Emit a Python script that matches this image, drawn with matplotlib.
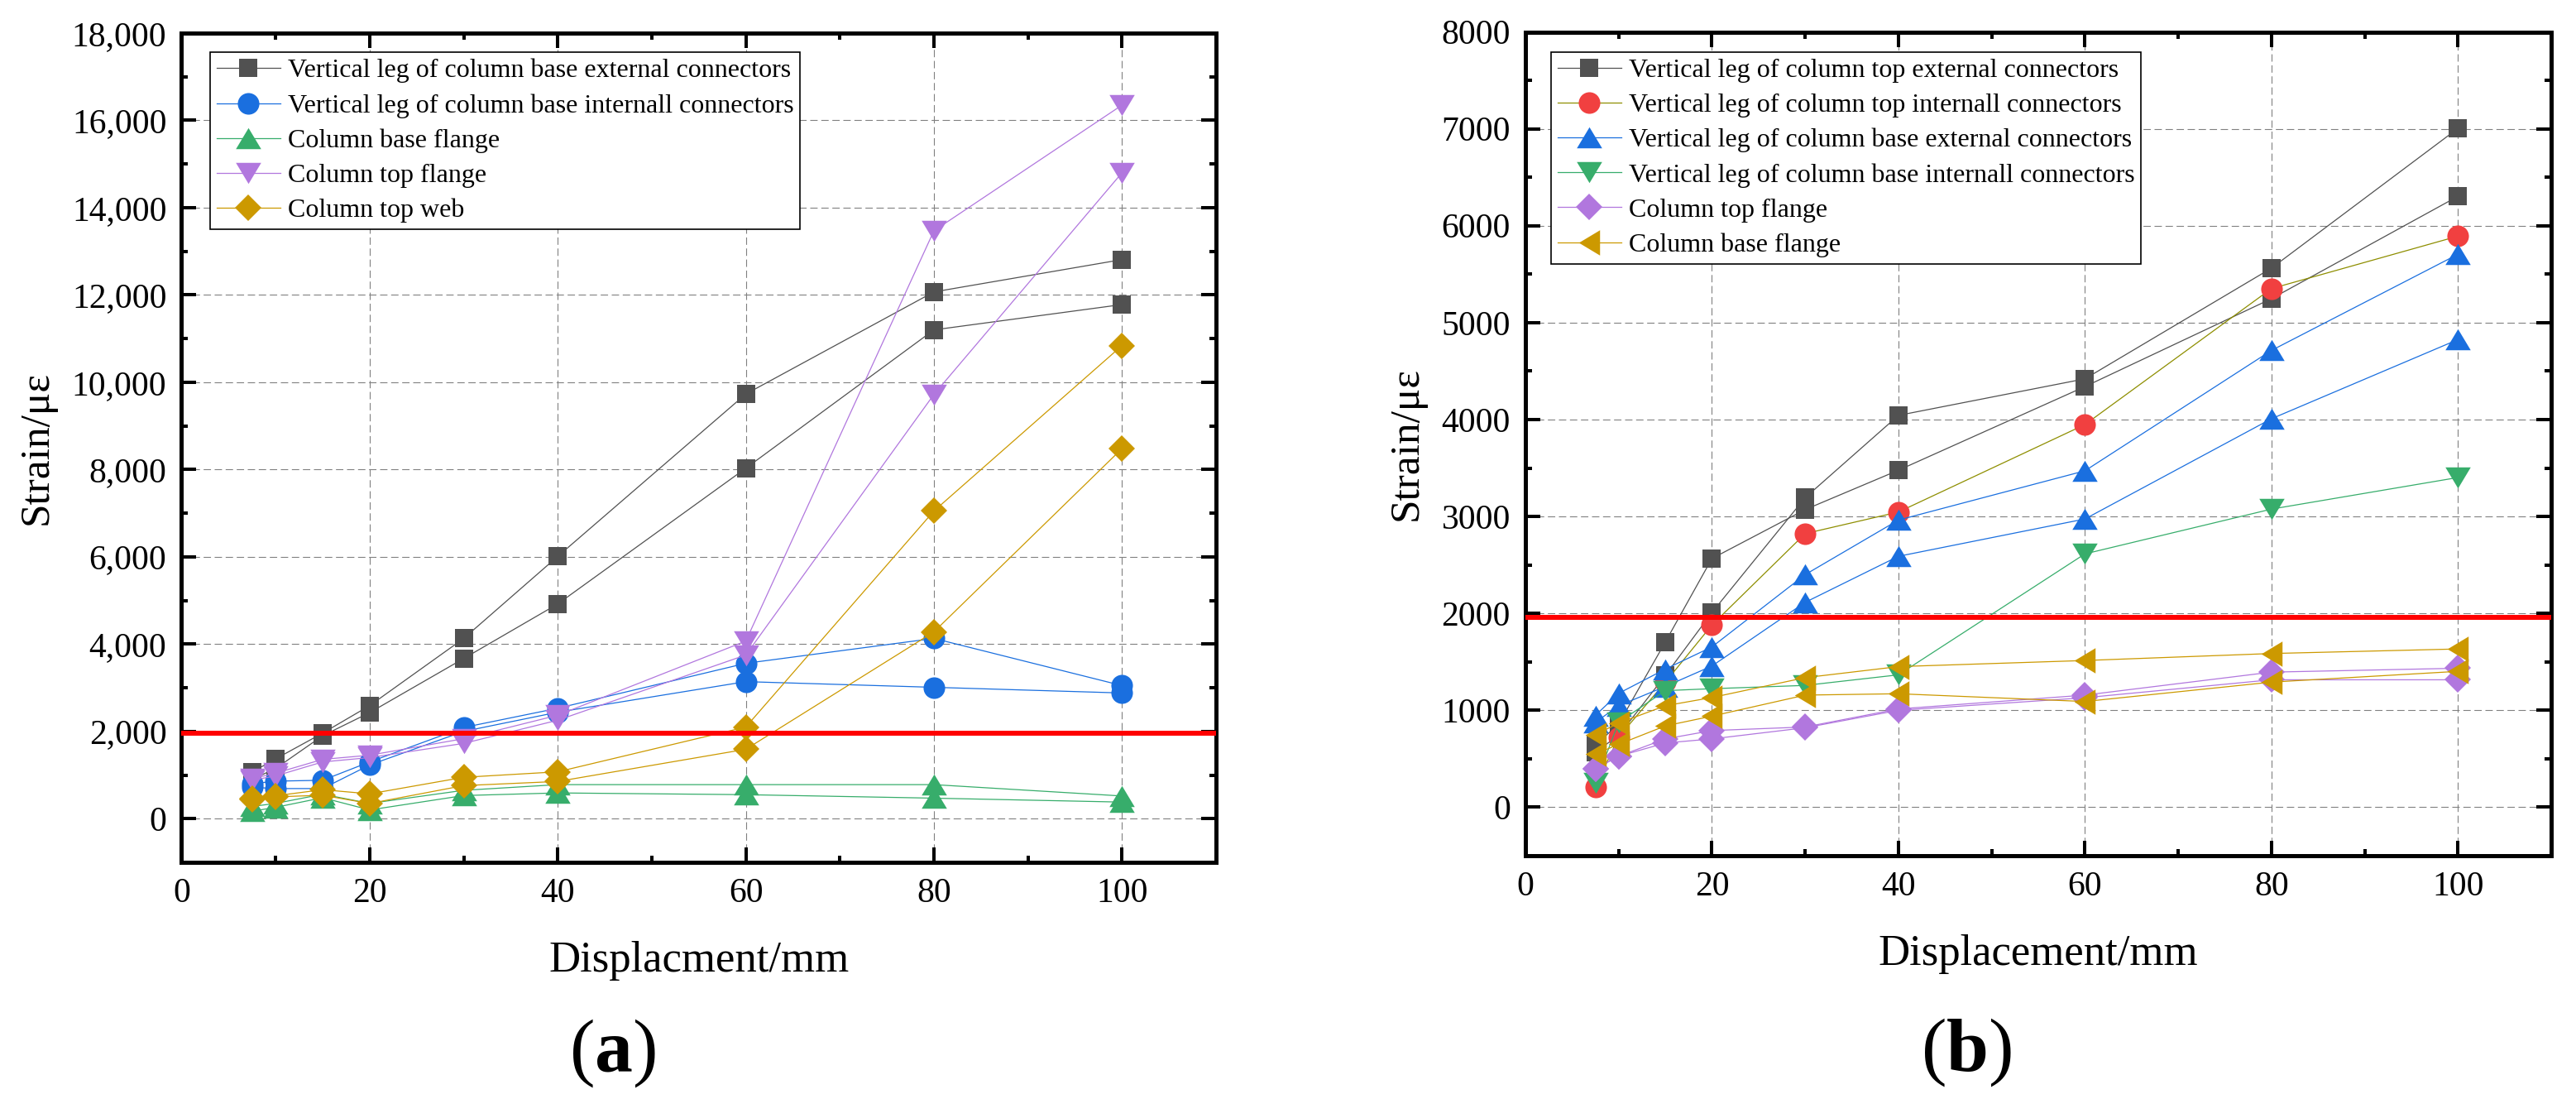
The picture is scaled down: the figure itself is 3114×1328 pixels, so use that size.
import matplotlib
matplotlib.use("Agg")
import matplotlib.pyplot as plt
from matplotlib.ticker import MultipleLocator, FuncFormatter
from matplotlib.path import Path

plt.rcParams['font.family'] = ['Liberation Serif', 'DejaVu Serif']
plt.rcParams['mathtext.fontset'] = 'custom'
plt.rcParams['mathtext.rm'] = 'Liberation Serif'
plt.rcParams['mathtext.bf'] = 'Liberation Serif:bold'

# ---------------- data ----------------
disp = [7.5, 10, 15, 20, 30, 40, 60, 80, 100]

# (a)
a_labels = ["Vertical leg of column base external connectors",
            "Vertical leg of column base internall connectors",
            "Column base flange",
            "Column top flange",
            "Column top web"]
a_ext_up = [1070, 1370, 1960, 2590, 4130, 6010, 9730, 12070, 12810]
a_ext_lo = [900, 1150, 1900, 2430, 3670, 4920, 8030, 11200, 11780]
a_int_up = [800, 860, 880, 1300, 2090, 2530, 3560, 4130, 3050]
a_int_lo = [720, 690, 690, 1230, 2000, 2440, 3140, 3010, 2880]
a_bfl_up = [280, 350, 560, 350, 650, 780, 780, 780, 520]
a_bfl_lo = [170, 260, 480, 200, 530, 590, 550, 470, 380]
a_tfl_up = [916, 1043, 1359, 1454, 1833, 2370, 4070, 13470, 16350]
a_tfl_lo = [880, 980, 1300, 1400, 1725, 2256, 3750, 9720, 14800]
a_web_up = [461, 525, 664, 569, 948, 1074, 2100, 7050, 10840]
a_web_lo = [440, 500, 537, 348, 758, 853, 1590, 4280, 8480]

# (b)
b_labels = ["Vertical leg of column top external connectors",
            "Vertical leg of column top internall connectors",
            "Vertical leg of column base external connectors",
            "Vertical leg of column base internall connectors",
            "Column top flange",
            "Column base flange"]
b_topext_1 = [640, 860, 1704, 2566, 3071, 3477, 4340, 5247, 6303]
b_topext_2 = [570, 740, 1360, 2009, 3194, 4043, 4420, 5562, 7004]
b_topint = [208, 725, 1289, 1880, 2823, 3046, 3948, 5351, 5892]
b_baseext_up = [947, 1175, 1425, 1654, 2400, 2963, 3471, 4713, 5705]
b_baseext_lo = [876, 1047, 1246, 1457, 2114, 2589, 2974, 4008, 4825]
b_baseint = [250, 876, 1203, 1223, 1257, 1366, 2614, 3076, 3402]
b_tfl_up = [398, 526, 705, 791, 828, 1014, 1157, 1394, 1434]
b_tfl_lo = [398, 526, 663, 705, 820, 1000, 1130, 1315, 1315]
b_bfl_up = [748, 868, 1047, 1132, 1337, 1451, 1514, 1586, 1633]
b_bfl_lo = [549, 649, 839, 940, 1157, 1171, 1091, 1291, 1402]

limit_a = 1960
limit_b = 1960

# ---------------- styles ----------------
C_GRAY = '#515151'
C_RED = '#F14040'
C_BLUE = '#1A6FDF'
C_GREEN = '#37AD6B'
C_PURPLE = '#B177DE'
C_ORANGE = '#CC9900'
C_OLIVE = '#8E8E00'

TRI_UP = Path([(0, 0.5), (-0.6, -0.5), (0.6, -0.5), (0, 0.5)], closed=True)
TRI_DN = Path([(0, -0.5), (-0.6, 0.5), (0.6, 0.5), (0, -0.5)], closed=True)
TRI_LF = Path([(-0.5, 0), (0.5, 0.6), (0.5, -0.6), (-0.5, 0)], closed=True)

MS = {'s': 16.0, 'o': 18.8, 'D': 16.6, 'tri': 22.0}
LW = 0.9

fig = plt.figure(figsize=(31.14, 13.28), dpi=100)
W, H = 3114, 1328


def px_axes(l, r, t, b):
    return [l / W, 1 - b / H, (r - l) / W, (b - t) / H]


ax_a = fig.add_axes(px_axes(219.5, 1470, 40, 1042))
ax_b = fig.add_axes(px_axes(1844, 3084, 38.5, 1034))


def draw(ax, branches, color, marker, ms, label, lcolor=None):
    for i, ys in enumerate(branches):
        ax.plot(disp, ys, color=lcolor or color, lw=LW, marker=marker, ms=ms,
                mfc=color, mec=color, mew=0,
                label=label if i == 0 else '_nolegend_')


# (a)
draw(ax_a, [a_ext_up, a_ext_lo], C_GRAY, 's', MS['s'], a_labels[0])
draw(ax_a, [a_int_up, a_int_lo], C_BLUE, 'o', MS['o'], a_labels[1])
draw(ax_a, [a_bfl_up, a_bfl_lo], C_GREEN, TRI_UP, MS['tri'], a_labels[2])
draw(ax_a, [a_tfl_up, a_tfl_lo], C_PURPLE, TRI_DN, MS['tri'], a_labels[3])
draw(ax_a, [a_web_up, a_web_lo], C_ORANGE, 'D', MS['D'], a_labels[4])
ax_a.axhline(limit_a, color='#FF0000', lw=4.3, zorder=10)

# (b)
draw(ax_b, [b_topext_1, b_topext_2], C_GRAY, 's', MS['s'], b_labels[0])
draw(ax_b, [b_topint], C_RED, 'o', MS['o'], b_labels[1], lcolor=C_OLIVE)
draw(ax_b, [b_baseext_up, b_baseext_lo], C_BLUE, TRI_UP, MS['tri'], b_labels[2])
draw(ax_b, [b_baseint], C_GREEN, TRI_DN, MS['tri'], b_labels[3])
draw(ax_b, [b_tfl_up, b_tfl_lo], C_PURPLE, 'D', MS['D'], b_labels[4])
draw(ax_b, [b_bfl_up, b_bfl_lo], C_ORANGE, TRI_LF, MS['tri'], b_labels[5])
ax_b.axhline(limit_b, color='#FF0000', lw=4.3, zorder=10)

# ---------------- axes styling ----------------
for ax in (ax_a, ax_b):
    ax.set_xlim(0, 110)
    ax.xaxis.set_major_locator(MultipleLocator(20))
    ax.xaxis.set_minor_locator(MultipleLocator(10))
    for s in ax.spines.values():
        s.set_linewidth(3.6)
    ax.tick_params(which='both', direction='in', top=True, right=True,
                   labelsize=30, pad=13)
    ax.tick_params(which='major', length=13, width=2.9)
    ax.tick_params(which='minor', length=6, width=2.9)
    ax.grid(True, which='major', color='#808080', lw=0.8,
            linestyle=(0, (8, 4)))
    ax.set_axisbelow(True)

ax_a.set_ylim(-1000, 18000)
ax_a.yaxis.set_major_locator(MultipleLocator(2000))
ax_a.yaxis.set_minor_locator(MultipleLocator(1000))
ax_a.yaxis.set_major_formatter(FuncFormatter(lambda v, p: f"{int(v):,}"))

ax_b.set_ylim(-500, 8000)
ax_b.yaxis.set_major_locator(MultipleLocator(1000))
ax_b.yaxis.set_minor_locator(MultipleLocator(500))
ax_b.yaxis.set_major_formatter(FuncFormatter(lambda v, p: f"{int(v)}"))

ax_a.set_xlabel("Displacment/mm", fontsize=38, labelpad=28)
ax_b.set_xlabel("Displacement/mm", fontsize=38, labelpad=28)
ax_a.set_ylabel("Strain/\u03bc\u03b5", fontsize=37)
ax_b.set_ylabel("Strain/\u03bc\u03b5", fontsize=37)
ax_a.yaxis.set_label_coords((68 - 219.5) / 1250.5, 0.5)
ax_b.yaxis.set_label_coords((1724 - 1844) / 1240, 0.5)

leg_kw = dict(loc='upper left', bbox_transform=fig.transFigure, fontsize=23,
              frameon=True, fancybox=False, edgecolor='black', framealpha=1,
              borderpad=0.25, labelspacing=0.4, handlelength=2.4,
              handletextpad=0.28, borderaxespad=0, numpoints=1)
la = ax_a.legend(bbox_to_anchor=(254 / W, 1 - 63 / H), **leg_kw)
lb = ax_b.legend(bbox_to_anchor=(1875 / W, 1 - 62.5 / H), **leg_kw)
for lg in (la, lb):
    lg.get_frame().set_linewidth(1.2)
    lg.set_zorder(20)

fig.text(740 / W, 1 - 1273 / H, r"($\mathbf{a}$)", fontsize=66,
         ha='center', va='center')
fig.text(2377 / W, 1 - 1272 / H, r"($\mathbf{b}$)", fontsize=66,
         ha='center', va='center')

fig.savefig("out.png", dpi=100)
